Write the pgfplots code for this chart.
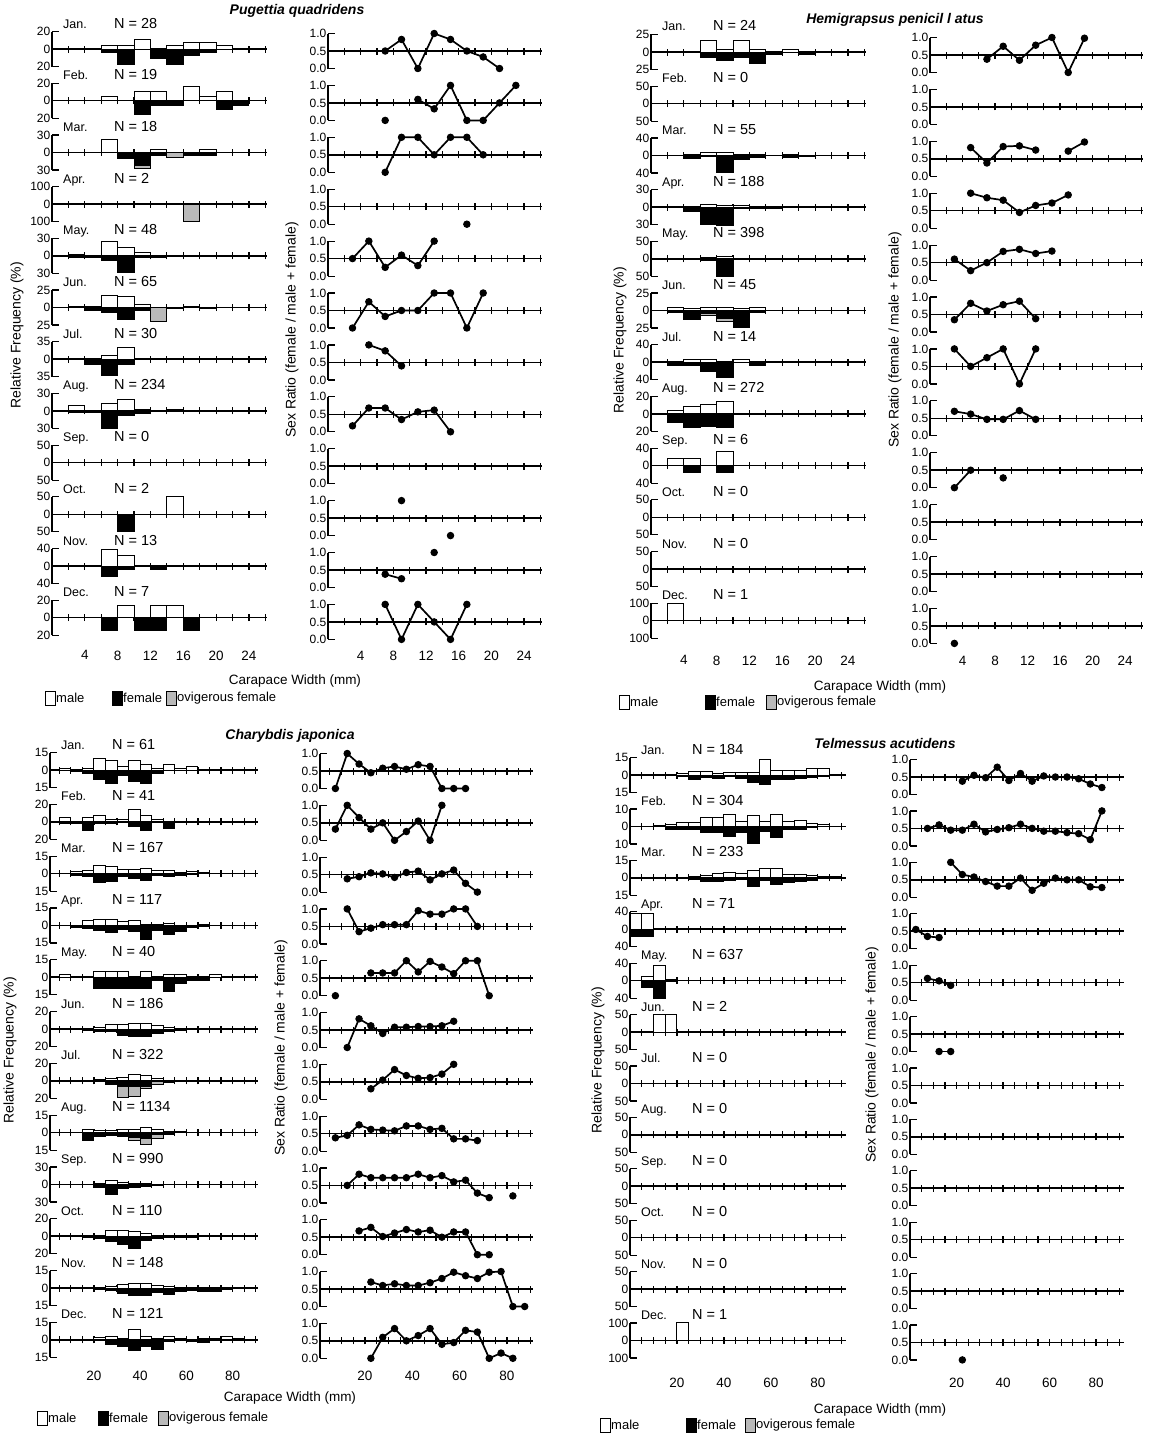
\documentclass[border=0pt]{standalone}
\usepackage{fontspec}
\setmainfont{Liberation Sans}
\usepackage{pgfplots}
\pgfplotsset{compat=1.18}
\newcommand\tkf{\fontsize{12}{12}\selectfont}
\newcommand\xlf{\fontsize{13.5}{13.5}\selectfont}
\newcommand\mof{\fontsize{12.5}{12.5}\selectfont}
\newcommand\nf{\fontsize{14.5}{14.5}\selectfont}
\newcommand\alf{\fontsize{14}{14}\selectfont}
\newcommand\lgf{\fontsize{13}{13}\selectfont}
\newcommand\ttf{\fontsize{14}{14}\selectfont\bfseries\itshape}
\pgfplotsset{
  sm/.style={scale only axis, height=35pt, anchor=west, clip=false,
    axis x line*=bottom, axis y line*=left, axis x line shift=-17.5pt,
    axis line style={line width=1.5pt},
    tick align=inside, major tick length=7pt,
    tick style={black, line width=1.2pt},
    xtick style={yshift=-3.5pt},
    xticklabels={},
    yticklabel style={font=\tkf, inner sep=1.5pt},
    xticklabel style={font=\xlf, inner sep=1pt},
    unbounded coords=jump,
    /pgf/number format/assume math mode=true},
  P/.style={sm, width=215pt, xmin=0, xmax=26.2, xtick={2,4,...,26}, bar width=2},
  PR/.style={sm, width=214pt, xmin=0, xmax=26.2, xtick={2,4,...,26}},
  H/.style={sm, width=215pt, xmin=0, xmax=26.2, xtick={2,4,...,26}, bar width=2},
  HR/.style={sm, width=213pt, xmin=0, xmax=26.2, xtick={2,4,...,26}},
  C/.style={sm, width=208pt, xmin=1, xmax=91, xtick={5,10,...,90}, bar width=5},
  CR/.style={sm, width=213pt, xmin=1, xmax=91, xtick={5,10,...,90}},
  T/.style={sm, width=216pt, xmin=0, xmax=92, xtick={5,10,...,90}, bar width=5},
  TR/.style={sm, width=214pt, xmin=0, xmax=92, xtick={5,10,...,90}},
  lastS/.style={xticklabels={,4,,8,,12,,16,,20,,24,}, xticklabel style={yshift=#1}},
  lastL/.style={xticklabels={,,,20,,,,40,,,,60,,,,80,,}, xticklabel style={yshift=#1}},
  mb/.style={ybar, bar shift=0pt, draw=black, fill=white, line width=1pt},
  fb/.style={ybar, bar shift=0pt, draw=black, fill=black, line width=1pt},
  ob/.style={ybar, bar shift=0pt, draw=black, fill=gray!55, line width=1pt},
  rl/.style={black, line width=1.7pt, mark=*, mark size=3.2pt, mark options={fill=black, line width=1pt}},
}
% #1 style #2 x #3 y #4 max #5 month #6 N #7 male #8 female #9 ovig(total)
\newcommand\hrow[9]{%
\begin{axis}[#1, at={(#2pt,-#3pt)}, ymin=-#4, ymax=#4, ytick={-#4,0,#4}, yticklabels={#4,0,#4}]
\if\relax\detokenize{#7}\relax\else\addplot[mb] coordinates {#7};\fi
\if\relax\detokenize{#9}\relax\else\addplot[ob] coordinates {#9};\fi
\if\relax\detokenize{#8}\relax\else\addplot[fb] coordinates {#8};\fi
\node[anchor=base west, font=\mof, inner sep=0pt, xshift=11pt, yshift=3.5pt] at (rel axis cs:0,1) {#5};
\node[anchor=base west, font=\nf, inner sep=0pt, xshift=62pt, yshift=3.5pt] at (rel axis cs:0,1) {N =\hspace{4pt}#6};
\end{axis}}
\newcommand\rrow[4]{%
\begin{axis}[#1, at={(#2pt,-#3pt)}, ymin=0, ymax=1, ytick={0,0.5,1}, yticklabels={0.0,0.5,1.0}]
\if\relax\detokenize{#4}\relax\else\addplot[rl] coordinates {#4};\fi
\end{axis}}
\newcommand\leg[4]{%
\draw[line width=1pt, fill=white] (#2,-#1-7) rectangle ++(10,14);
\node[anchor=west, inner sep=1pt, font=\lgf] at (#2+10,-#1) {male};
\draw[line width=1pt, fill=black] (#3,-#1-7) rectangle ++(10,14);
\node[anchor=west, inner sep=1pt, font=\lgf] at (#3+10,-#1) {female};
\draw[line width=1pt, fill=gray!55] (#4,-#1-7) rectangle ++(10,14);
\node[anchor=west, inner sep=1pt, font=\lgf] at (#4+10,-#1) {ovigerous female};}
\begin{document}
\begin{tikzpicture}[x=1pt,y=1pt]
\path[use as bounding box] (0,0) rectangle (1157,-1435);
% ===== Pugettia quadridens =====
\hrow{P}{52}{49}{20}{Jan.}{28}{(7,3.6)(9,3.6)(11,10.7)(15,3.6)(17,7.1)(19,7.1)(21,3.6)}{(7,-3.6)(9,-17.9)(13,-10.7)(15,-17.9)(17,-7.1)(19,-3.6)}{}
\hrow{P}{52}{100.7}{20}{Feb.}{19}{(7,5.3)(11,10.5)(13,10.5)(17,15.8)(19,5.3)(21,10.5)}{(11,-15.8)(13,-5.3)(15,-5.3)(21,-10.5)(23,-5.3)}{}
\hrow{P}{52}{152.4}{30}{Mar.}{18}{(7,22.2)(13,5.6)(19,5.6)}{(9,-11.1)(11,-22.2)(13,-5.6)(17,-5.6)(19,-5.6)}{(11,-27.8)(15,-8)}
\hrow{P}{52}{204.1}{100}{Apr.}{2}{}{}{(17,-100)}
\hrow{P}{52}{255.8}{30}{May.}{48}{(3,2.1)(7,25)(9,14.6)(11,6.3)}{(3,-2.1)(5,-2.1)(7,-8.3)(9,-29)(11,-2.1)(13,-2.1)}{}
\hrow{P}{52}{307.5}{25}{Jun.}{65}{(3,1.5)(5,1.5)(7,16.9)(9,15.4)(11,4.6)(17,1.5)}{(5,-4.6)(7,-7.7)(9,-16.9)(11,-4.6)(15,-1.5)(19,-1.5)}{(13,-20)}
\hrow{P}{52}{359.2}{35}{Jul.}{30}{(7,6.7)(9,23.3)}{(5,-10)(7,-33.3)(9,-10)}{}
\hrow{P}{52}{410.9}{30}{Aug.}{234}{(3,10)(5,1)(7,12)(9,20)(11,3)(13,1)(15,3)}{(3,-2)(5,-2)(7,-30)(9,-8)(11,-4)(13,-1.5)}{}
\hrow{P}{52}{462.6}{50}{Sep.}{0}{}{}{}
\hrow{P}{52}{514.3}{50}{Oct.}{2}{(15,50)}{(9,-50)}{}
\hrow{P}{52}{566}{40}{Nov.}{13}{(7,38.5)(9,23.1)}{(7,-23.1)(9,-7.7)(13,-7.7)}{}
\hrow{P,lastS=-31.7pt}{52}{617.7}{20}{Dec.}{7}{(9,14.3)(13,14.3)(15,14.3)}{(7,-14.3)(11,-14.3)(13,-14.3)(17,-14.3)}{}
\rrow{PR}{328}{51}{(7,.5)(9,.83)(11,0)(13,1)(15,.83)(17,.5)(19,.33)(21,0)}
\rrow{PR}{328}{102.9}{(7,0)(9,nan)(11,.6)(13,.33)(15,1)(17,0)(19,0)(21,.5)(23,1)}
\rrow{PR}{328}{154.8}{(7,0)(9,1)(11,1)(13,.5)(15,1)(17,1)(19,.5)}
\rrow{PR}{328}{206.7}{(17,0)}
\rrow{PR}{328}{258.6}{(3,.5)(5,1)(7,.25)(9,.6)(11,.3)(13,1)}
\rrow{PR}{328}{310.5}{(3,0)(5,.75)(7,.33)(9,.5)(11,.5)(13,1)(15,1)(17,0)(19,1)}
\rrow{PR}{328}{362.4}{(5,1)(7,.83)(9,.4)}
\rrow{PR}{328}{414.3}{(3,.17)(5,.68)(7,.68)(9,.35)(11,.57)(13,.62)(15,0)}
\rrow{PR}{328}{466.2}{}
\rrow{PR}{328}{518.1}{(9,1)(11,nan)(15,0)}
\rrow{PR}{328}{570}{(7,.38)(9,.25)(11,nan)(13,1)}
\rrow{PR,lastS=-27.7pt}{328}{621.9}{(7,1)(9,0)(11,1)(13,.5)(15,0)(17,1)}
% ===== Hemigrapsus =====
\hrow{H}{651}{52}{25}{Jan.}{24}{(7,16.7)(9,4.2)(11,16.7)(13,4.2)(17,4.2)}{(7,-8.3)(9,-12.5)(11,-8.3)(13,-16.7)(15,-4.2)(19,-4.2)}{}
\hrow{H}{651}{103.7}{50}{Feb.}{0}{}{}{}
\hrow{H}{651}{155.4}{40}{Mar.}{55}{(5,1.8)(7,5.5)(9,7.3)(11,1.8)(13,1.8)(17,1.8)}{(5,-7.3)(7,-3.6)(9,-38.2)(11,-9.1)(13,-5.5)(17,-5.5)(19,-1.8)}{}
\hrow{H}{651}{207.1}{30}{Apr.}{188}{(7,4.5)(9,3)(11,2.5)(13,1)(15,.6)}{(5,-8)(7,-30)(9,-32)(11,-2)(13,-2)(15,-1.6)(17,-1)}{}
\hrow{H}{651}{258.8}{50}{May.}{398}{(5,1.5)(7,4)(9,6)(11,.5)(13,.5)}{(3,-.75)(5,-.5)(7,-4)(9,-50)(11,-3)(13,-1.5)(15,-1)}{}
\hrow{H}{651}{310.5}{25}{Jun.}{45}{(3,4.4)(5,2.2)(7,4.4)(9,4.4)(11,2.2)(13,4.4)}{(3,-2.2)(5,-13.3)(7,-4.4)(9,-11.1)(11,-24.4)(13,-2.2)}{(7,-6.7)(9,-15.6)}
\hrow{H}{651}{362.2}{40}{Jul.}{14}{(5,7.1)(7,7.1)(11,7.1)}{(3,-7.1)(5,-7.1)(7,-21.4)(9,-35.7)(13,-7.1)}{}
\hrow{H}{651}{413.9}{20}{Aug.}{272}{(3,4)(5,8)(7,11)(9,14)(11,.4)(13,.4)}{(3,-10)(5,-15)(7,-14)(9,-16)(11,-1)(13,-.4)}{}
\hrow{H}{651}{465.6}{40}{Sep.}{6}{(3,16.7)(5,16.7)(9,33.3)}{(5,-16.7)(9,-16.7)}{}
\hrow{H}{651}{517.3}{50}{Oct.}{0}{}{}{}
\hrow{H}{651}{569}{50}{Nov.}{0}{}{}{}
\hrow{H,lastS=-33.7pt}{651}{620.7}{100}{Dec.}{1}{(3,100)}{}{}
\rrow{HR}{930}{55}{(7,.38)(9,.75)(11,.35)(13,.78)(15,1)(17,0)(19,.98)}
\rrow{HR}{930}{106.9}{}
\rrow{HR}{930}{158.8}{(5,.82)(7,.38)(9,.85)(11,.87)(13,.75)(15,nan)(17,.72)(19,.98)}
\rrow{HR}{930}{210.7}{(5,1)(7,.87)(9,.8)(11,.45)(13,.65)(15,.72)(17,.95)}
\rrow{HR}{930}{262.6}{(3,.6)(5,.27)(7,.5)(9,.82)(11,.88)(13,.76)(15,.83)}
\rrow{HR}{930}{314.5}{(3,.35)(5,.82)(7,.6)(9,.78)(11,.88)(13,.38)}
\rrow{HR}{930}{366.4}{(3,1)(5,.5)(7,.75)(9,1)(11,0)(13,1)}
\rrow{HR}{930}{418.3}{(3,.7)(5,.62)(7,.47)(9,.47)(11,.72)(13,.47)}
\rrow{HR}{930}{470.2}{(3,0)(5,.5)(7,nan)(9,.28)}
\rrow{HR}{930}{522.1}{}
\rrow{HR}{930}{574}{}
\rrow{HR,lastS=-28.7pt}{930}{625.9}{(3,0)}
% ===== Charybdis japonica =====
\hrow{C}{50}{770}{15}{Jan.}{61}{(7.5,1.6)(17.5,1.6)(22.5,9.8)(27.5,8.2)(32.5,3.3)(37.5,8.2)(42.5,4.9)(47.5,1.6)(52.5,4.9)(57.5,1.6)(62.5,3.3)}{(12.5,-1.6)(17.5,-3.3)(22.5,-8.2)(27.5,-11.5)(32.5,-4.9)(37.5,-9.8)(42.5,-11.5)(47.5,-3.3)}{}
\hrow{C}{50}{821.8}{20}{Feb.}{41}{(7.5,4.9)(17.5,4.9)(22.5,7.3)(27.5,2.4)(32.5,2.4)(37.5,14.6)(42.5,7.3)(47.5,2.4)}{(7.5,-2.4)(12.5,-2.4)(17.5,-9.8)(22.5,-2.4)(27.5,-2.4)(37.5,-4.9)(42.5,-9.8)(52.5,-7.3)}{}
\hrow{C}{50}{873.6}{15}{Mar.}{167}{(12.5,1.8)(17.5,3)(22.5,6.6)(27.5,6)(32.5,3.6)(37.5,3.6)(42.5,4.2)(47.5,3)(52.5,2.4)(57.5,1.2)(62.5,1.8)(67.5,.6)}{(12.5,-1.2)(17.5,-2.4)(22.5,-7.8)(27.5,-6.6)(32.5,-2.6)(37.5,-4.6)(42.5,-6.3)(47.5,-1.6)(52.5,-2.6)(57.5,-2)(62.5,-.6)}{}
\hrow{C}{50}{925.4}{15}{Apr.}{117}{(17.5,4.3)(22.5,5.1)(27.5,5)(32.5,3.4)(37.5,4.3)(42.5,.85)(47.5,.85)(52.5,1.7)(67.5,.85)}{(12.5,-1.7)(17.5,-2.6)(22.5,-4.3)(27.5,-6)(32.5,-3.4)(37.5,-5.1)(42.5,-12)(47.5,-4.3)(52.5,-7.7)(57.5,-5.1)(62.5,-1.7)(67.5,-.85)}{}
\hrow{C}{50}{977.2}{15}{May.}{40}{(7.5,2.5)(22.5,5)(27.5,5)(32.5,5)(42.5,5)(52.5,2.5)(57.5,2.5)(72.5,2.5)}{(22.5,-10)(27.5,-10)(32.5,-10)(37.5,-10)(42.5,-10)(47.5,-2.5)(52.5,-12.5)(57.5,-5)(62.5,-2.5)(67.5,-2.5)}{}
\hrow{C}{50}{1029}{20}{Jun.}{186}{(12.5,.5)(17.5,.4)(22.5,1.9)(27.5,4.8)(32.5,5.4)(37.5,5.9)(42.5,5.9)(47.5,3.8)(52.5,1.6)(57.5,.5)}{(17.5,-1.6)(22.5,-3)(27.5,-3.2)(32.5,-7.5)(37.5,-8.1)(42.5,-9.1)(47.5,-5.4)(52.5,-2.7)(57.5,-1.6)}{}
\hrow{C}{50}{1080.8}{20}{Jul.}{322}{(22.5,1.2)(27.5,3)(32.5,3.5)(37.5,7)(42.5,6)(47.5,2.5)(52.5,.6)}{(22.5,-.5)(27.5,-2.5)(32.5,-7)(37.5,-6)(42.5,-7)(47.5,-1.2)(52.5,-1.5)(57.5,-.3)}{(27.5,-3.7)(32.5,-19)(37.5,-18)(42.5,-9)(47.5,-4)}
\hrow{C}{50}{1132.6}{15}{Aug.}{1134}{(7.5,.1)(12.5,.3)(17.5,2.3)(22.5,2)(27.5,1.5)(32.5,2.5)(37.5,2.5)(42.5,4)(47.5,3)(52.5,1)(57.5,.6)(62.5,.4)(67.5,.2)}{(12.5,-.3)(17.5,-7)(22.5,-3.2)(27.5,-2.2)(32.5,-3.5)(37.5,-4)(42.5,-5)(47.5,-2)(52.5,-.9)(57.5,-.3)(62.5,-.2)(67.5,-.1)}{(37.5,-6.5)(42.5,-10.3)(47.5,-5)(52.5,-1.9)}
\hrow{C}{50}{1184.4}{30}{Sep.}{990}{(12.5,.1)(17.5,.2)(22.5,2)(27.5,7)(32.5,3)(37.5,2)(42.5,.8)(47.5,.6)(52.5,.3)(57.5,.3)(62.5,.2)(67.5,.3)(72.5,.5)(82.5,.4)}{(12.5,-.1)(17.5,-1)(22.5,-5)(27.5,-18)(32.5,-7.5)(37.5,-5)(42.5,-3.6)(47.5,-1.5)(52.5,-1)(57.5,-.45)(62.5,-.35)(67.5,-.1)(72.5,-.1)(82.5,-.1)}{}
\hrow{C}{50}{1236.2}{20}{Oct.}{110}{(17.5,.9)(22.5,.9)(27.5,6)(32.5,6.4)(37.5,5.5)(42.5,2.7)(47.5,.9)(52.5,.9)(57.5,.9)(62.5,.9)(67.5,.9)(72.5,.9)}{(17.5,-1.8)(22.5,-2.7)(27.5,-6.4)(32.5,-10)(37.5,-14.5)(42.5,-5)(47.5,-2.7)(52.5,-.9)(57.5,-1.8)(62.5,-1.8)}{}
\hrow{C}{50}{1288}{15}{Nov.}{148}{(22.5,.7)(27.5,1.4)(32.5,2.7)(37.5,4)(42.5,4)(47.5,2)(52.5,1.4)(62.5,.3)(67.5,.7)(82.5,.7)(87.5,.7)}{(22.5,-1.4)(27.5,-2)(32.5,-5)(37.5,-6.1)(42.5,-6.1)(47.5,-4.1)(52.5,-5.4)(57.5,-2.7)(62.5,-2)(67.5,-2.7)(72.5,-2.7)(77.5,-1.4)}{}
\hrow{C,lastL=-29.7pt}{50}{1339.8}{15}{Dec.}{121}{(22.5,1.7)(27.5,3)(32.5,1)(37.5,9)(42.5,3)(47.5,1.4)(52.5,2.5)(57.5,1)(62.5,.4)(67.5,.8)(72.5,.8)(77.5,2.5)(82.5,.8)}{(27.5,-4.1)(32.5,-5.8)(37.5,-9)(42.5,-5.8)(47.5,-8.3)(52.5,-1.7)(57.5,-.8)(62.5,-1.7)(67.5,-2.5)(77.5,-.4)}{}
\rrow{CR}{320}{771}{(7.5,0)(12.5,1)(17.5,.7)(22.5,.45)(27.5,.58)(32.5,.63)(37.5,.55)(42.5,.68)(47.5,.63)(52.5,0)(57.5,0)(62.5,0)}
\rrow{CR}{320}{822.8}{(7.5,.32)(12.5,1)(17.5,.65)(22.5,.32)(27.5,.5)(32.5,0)(37.5,.25)(42.5,.55)(47.5,0)(52.5,1)}
\rrow{CR}{320}{874.6}{(12.5,.38)(17.5,.44)(22.5,.55)(27.5,.52)(32.5,.42)(37.5,.56)(42.5,.6)(47.5,.35)(52.5,.52)(57.5,.63)(62.5,.25)(67.5,0)}
\rrow{CR}{320}{926.4}{(12.5,1)(17.5,.35)(22.5,.45)(27.5,.55)(32.5,.55)(37.5,.55)(42.5,.95)(47.5,.85)(52.5,.85)(57.5,1)(62.5,1)(67.5,.5)}
\rrow{CR}{320}{978.2}{(7.5,0)(12.5,nan)(22.5,.65)(27.5,.65)(32.5,.65)(37.5,1)(42.5,.68)(47.5,.98)(52.5,.82)(57.5,.63)(62.5,1)(67.5,1)(72.5,0)}
\rrow{CR}{320}{1030}{(12.5,0)(17.5,.82)(22.5,.62)(27.5,.4)(32.5,.58)(37.5,.58)(42.5,.6)(47.5,.6)(52.5,.62)(57.5,.75)}
\rrow{CR}{320}{1081.8}{(22.5,.3)(27.5,.55)(32.5,.85)(37.5,.68)(42.5,.6)(47.5,.62)(52.5,.72)(57.5,1)}
\rrow{CR}{320}{1133.6}{(7.5,.38)(12.5,.45)(17.5,.75)(22.5,.62)(27.5,.6)(32.5,.58)(37.5,.72)(42.5,.72)(47.5,.62)(52.5,.65)(57.5,.35)(62.5,.35)(67.5,.3)}
\rrow{CR}{320}{1185.4}{(12.5,.5)(17.5,.82)(22.5,.72)(27.5,.72)(32.5,.72)(37.5,.72)(42.5,.82)(47.5,.72)(52.5,.78)(57.5,.6)(62.5,.65)(67.5,.28)(72.5,.15)(77.5,nan)(82.5,.2)}
\rrow{CR}{320}{1237.2}{(17.5,.68)(22.5,.78)(27.5,.52)(32.5,.62)(37.5,.72)(42.5,.65)(47.5,.7)(52.5,.5)(57.5,.65)(62.5,.65)(67.5,0)(72.5,0)}
\rrow{CR}{320}{1289}{(22.5,.7)(27.5,.6)(32.5,.65)(37.5,.6)(42.5,.6)(47.5,.68)(52.5,.8)(57.5,.98)(62.5,.88)(67.5,.8)(72.5,.98)(77.5,1)(82.5,0)(87.5,0)}
\rrow{CR,lastL=-28.7pt}{320}{1340.8}{(22.5,0)(27.5,.6)(32.5,.85)(37.5,.5)(42.5,.65)(47.5,.85)(52.5,.4)(57.5,.45)(62.5,.8)(67.5,.75)(72.5,0)(77.5,.15)(82.5,0)}
% ===== Telmessus acutidens =====
\hrow{T}{630}{775}{15}{Jan.}{184}{(22.5,1.6)(27.5,3.3)(32.5,2.7)(37.5,1)(42.5,2.5)(47.5,2.2)(52.5,2)(57.5,13)(62.5,4)(67.5,3.5)(72.5,4)(77.5,5.5)(82.5,5.5)}{(22.5,-1)(27.5,-4)(32.5,-2.5)(37.5,-3)(42.5,-1.6)(47.5,-3.3)(52.5,-6)(57.5,-8)(62.5,-4)(67.5,-3.5)(72.5,-3.3)(77.5,-2.4)(82.5,-1.4)}{}
\hrow{T}{630}{826.4}{10}{Feb.}{304}{(12.5,.3)(17.5,1)(22.5,2)(27.5,2.3)(32.5,5)(37.5,5)(42.5,6.6)(47.5,3)(52.5,6)(57.5,3)(62.5,7)(67.5,2.6)(72.5,3.3)(77.5,1.6)(82.5,1.3)}{(12.5,-.3)(17.5,-1.6)(22.5,-1.6)(27.5,-2)(32.5,-3.5)(37.5,-3.3)(42.5,-5.9)(47.5,-3.3)(52.5,-9.5)(57.5,-3)(62.5,-6.5)(67.5,-2)(72.5,-2)(77.5,-.9)(82.5,-.3)}{}
\hrow{T}{630}{877.8}{15}{Mar.}{233}{(27.5,.9)(32.5,2.2)(37.5,3.9)(42.5,4.3)(47.5,3.9)(52.5,6)(57.5,8)(62.5,8)(67.5,3)(72.5,3)(77.5,2)(82.5,1.4)(87.5,.9)}{(22.5,-.9)(27.5,-1.7)(32.5,-3)(37.5,-3.4)(42.5,-2.2)(47.5,-1.7)(52.5,-7.7)(57.5,-2)(62.5,-6)(67.5,-3.7)(72.5,-3)(77.5,-2)(82.5,-.6)(87.5,-.35)}{}
\hrow{T}{630}{929.2}{40}{Apr.}{71}{(2.5,37)(7.5,36)(12.5,1.4)}{(2.5,-17)(7.5,-17)(12.5,-1.4)}{}
\hrow{T}{630}{980.6}{40}{May.}{637}{(7.5,10)(12.5,35)(17.5,2)}{(7.5,-15)(12.5,-40)(17.5,-1.4)}{}
\hrow{T}{630}{1032}{50}{Jun.}{2}{(12.5,50)(17.5,50)}{}{}
\hrow{T}{630}{1083.4}{50}{Jul.}{0}{}{}{}
\hrow{T}{630}{1134.8}{50}{Aug.}{0}{}{}{}
\hrow{T}{630}{1186.2}{50}{Sep.}{0}{}{}{}
\hrow{T}{630}{1237.6}{50}{Oct.}{0}{}{}{}
\hrow{T}{630}{1289}{50}{Nov.}{0}{}{}{}
\hrow{T,lastL=-36.7pt}{630}{1340.4}{100}{Dec.}{1}{(22.5,100)}{}{}
\rrow{TR}{910}{777}{(22.5,.38)(27.5,.55)(32.5,.48)(37.5,.78)(42.5,.4)(47.5,.6)(52.5,.38)(57.5,.53)(62.5,.5)(67.5,.5)(72.5,.45)(77.5,.3)(82.5,.2)}
\rrow{TR}{910}{828.4}{(7.5,.5)(12.5,.6)(17.5,.45)(22.5,.45)(27.5,.62)(32.5,.4)(37.5,.47)(42.5,.52)(47.5,.62)(52.5,.5)(57.5,.42)(62.5,.42)(67.5,.38)(72.5,.35)(77.5,.18)(82.5,1)}
\rrow{TR}{910}{879.8}{(17.5,1)(22.5,.65)(27.5,.58)(32.5,.45)(37.5,.32)(42.5,.32)(47.5,.55)(52.5,.2)(57.5,.4)(62.5,.55)(67.5,.5)(72.5,.5)(77.5,.3)(82.5,.28)}
\rrow{TR}{910}{931.2}{(2.5,.55)(7.5,.35)(12.5,.32)}
\rrow{TR}{910}{982.6}{(7.5,.62)(12.5,.55)(17.5,.42)}
\rrow{TR}{910}{1034}{(12.5,0)(17.5,0)}
\rrow{TR}{910}{1085.4}{}
\rrow{TR}{910}{1136.8}{}
\rrow{TR}{910}{1188.2}{}
\rrow{TR}{910}{1239.6}{}
\rrow{TR}{910}{1291}{}
\rrow{TR,lastL=-34.7pt}{910}{1342.4}{(22.5,0)}
% ===== texts =====
\node[font=\ttf] at (297,-11) {Pugettia quadridens};
\node[font=\ttf] at (895,-20) {Hemigrapsus penicil l atus};
\node[font=\ttf] at (290,-736) {Charybdis japonica};
\node[font=\ttf] at (885,-743) {Telmessus acutidens};
\node[rotate=90, font=\alf] at (17,-335) {Relative Frequency (\%)};
\node[rotate=90, font=\alf] at (292,-330) {Sex Ratio (female / male + female)};
\node[rotate=90, font=\alf] at (620,-340) {Relative Frequency (\%)};
\node[rotate=90, font=\alf] at (895,-340) {Sex Ratio (female / male + female)};
\node[rotate=90, font=\alf] at (10,-1050) {Relative Frequency (\%)};
\node[rotate=90, font=\alf] at (281,-1048) {Sex Ratio (female / male + female)};
\node[rotate=90, font=\alf] at (598,-1060) {Relative Frequency (\%)};
\node[rotate=90, font=\alf] at (872,-1055) {Sex Ratio (female / male + female)};
\node[font=\xlf] at (295,-681) {Carapace Width (mm)};
\node[font=\xlf] at (880,-687) {Carapace Width (mm)};
\node[font=\xlf] at (290,-1398) {Carapace Width (mm)};
\node[font=\xlf] at (880,-1410) {Carapace Width (mm)};
\leg{698}{45}{112}{166}
\leg{702}{619}{705}{766}
\leg{1418}{37}{98}{158}
\leg{1425}{600}{686}{745}
\end{tikzpicture}
\end{document}
